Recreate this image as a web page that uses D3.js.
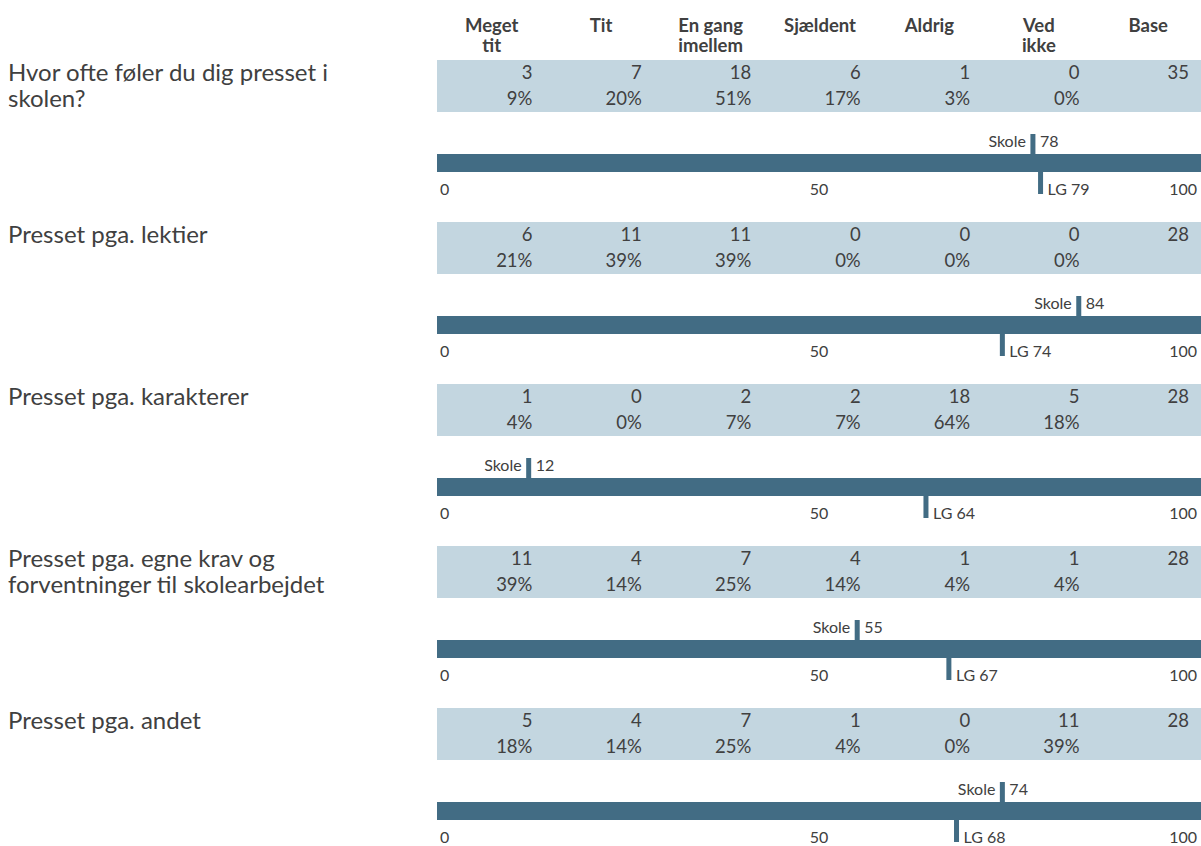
<!DOCTYPE html>
<html>
<head>
<meta charset="utf-8">
<script src="https://cdn.jsdelivr.net/npm/d3@7"></script>
<style>
  body { margin: 0; background: #fff; }
  svg text { font-family: Lato, "Open Sans", sans-serif; }
</style>
</head>
<body>
<div id="svg-container"></div>
<script>
// data
const columns = ["Meget tit", "Tit", "En gang imellem", "Sjældent", "Aldrig", "Ved ikke", "Base"];
const headerLines = [["Meget", "tit"], ["Tit"], ["En gang", "imellem"], ["Sjældent"], ["Aldrig"], ["Ved", "ikke"], ["Base"]];
const questions = [
  ["Hvor ofte føler du dig presset i", "skolen?"],
  ["Presset pga. lektier"],
  ["Presset pga. karakterer"],
  ["Presset pga. egne krav og", "forventninger til skolearbejdet"],
  ["Presset pga. andet"]
];
const counts = [
  [3, 7, 18, 6, 1, 0],
  [6, 11, 11, 0, 0, 0],
  [1, 0, 2, 2, 18, 5],
  [11, 4, 7, 4, 1, 1],
  [5, 4, 7, 1, 0, 11]
];
const percents = [
  [9, 20, 51, 17, 3, 0],
  [21, 39, 39, 0, 0, 0],
  [4, 0, 7, 7, 64, 18],
  [39, 14, 25, 14, 4, 4],
  [18, 14, 25, 4, 0, 39]
];
const bases = [35, 28, 28, 28, 28];
const skole = [78, 84, 12, 55, 74];
const lg = [79, 74, 64, 67, 68];
const ticks = [0, 50, 100];

////////////////////////////  Init  ///////////////////////////////
const width = 1201;
const height = 846;
const svg = d3.select("#svg-container").append("svg")
  .attr("width", width).attr("height", height);

const textColor = "#404040";
const bandColor = "#c3d6e0";
const barColor = "#426c84";

const pitch = 162;
const bandTop = 60;
const numSize = 18.5;
const smallSize = 16;

// scales
const xScale = d3.scaleLinear().domain([0, 100]).range([437, 1201]);
const colScale = d3.scaleBand().domain(columns).range([437, 1203]);

// header
const header = svg.append("g").attr("class", "header");
columns.forEach((c, i) => {
  const cx = colScale(c) + colScale.bandwidth() / 2;
  header.append("text")
    .attr("x", cx)
    .attr("y", 32)
    .attr("text-anchor", "middle")
    .attr("font-size", 18.5)
    .attr("font-weight", "bold")
    .attr("fill", textColor)
    .selectAll("tspan")
    .data(headerLines[i])
    .enter()
    .append("tspan")
    .attr("x", cx)
    .attr("dy", (d, j) => (j === 0 ? 0 : 20))
    .text((d) => d);
});

// blocks
questions.forEach((q, qi) => {
  const g = svg.append("g").attr("transform", `translate(0,${bandTop + qi * pitch})`);

  // question label, one text per line
  q.forEach((line, j) => {
    g.append("text")
      .attr("x", 8)
      .attr("y", 21 + j * 26)
      .attr("font-size", 24)
      .attr("fill", textColor)
      .text(line);
  });

  g.append("rect")
    .attr("x", xScale(0))
    .attr("y", 0)
    .attr("width", xScale(100) - xScale(0))
    .attr("height", 52)
    .attr("fill", bandColor);

  const rightEdge = (i) => colScale(columns[i]) + colScale.bandwidth() - 14;

  counts[qi].forEach((v, i) => {
    g.append("text").attr("x", rightEdge(i)).attr("y", 19)
      .attr("text-anchor", "end").attr("font-size", numSize).attr("fill", textColor)
      .text(v);
    g.append("text").attr("x", rightEdge(i)).attr("y", 45)
      .attr("text-anchor", "end").attr("font-size", numSize).attr("fill", textColor)
      .text(percents[qi][i] + "%");
  });
  g.append("text").attr("x", rightEdge(6)).attr("y", 19)
    .attr("text-anchor", "end").attr("font-size", numSize).attr("fill", textColor)
    .text(bases[qi]);

  // bar
  const barY = 94;
  const barH = 18;
  g.append("rect")
    .attr("x", xScale(0))
    .attr("y", barY)
    .attr("width", xScale(100) - xScale(0))
    .attr("height", barH)
    .attr("fill", barColor);

  // axis labels
  ticks.forEach((t, ti) => {
    g.append("text")
      .attr("x", ti === 0 ? xScale(t) + 3 : ti === ticks.length - 1 ? xScale(t) - 4 : xScale(t))
      .attr("y", barY + barH + 23)
      .attr("text-anchor", ti === 0 ? "start" : ti === ticks.length - 1 ? "end" : "middle")
      .attr("font-size", smallSize)
      .attr("fill", textColor)
      .text(t);
  });

  // skole marker
  const sx = xScale(skole[qi]);
  g.append("rect").attr("x", sx - 2.5).attr("y", barY - 20).attr("width", 5).attr("height", 20)
    .attr("fill", barColor);
  g.append("text").attr("x", sx - 7).attr("y", barY - 7)
    .attr("text-anchor", "end").attr("font-size", smallSize).attr("fill", textColor).text("Skole");
  g.append("text").attr("x", sx + 7).attr("y", barY - 7)
    .attr("font-size", smallSize).attr("fill", textColor).text(skole[qi]);

  // LG marker
  const lx = xScale(lg[qi]);
  g.append("rect").attr("x", lx - 2.5).attr("y", barY + barH).attr("width", 5).attr("height", 22)
    .attr("fill", barColor);
  g.append("text").attr("x", lx + 7).attr("y", barY + barH + 23)
    .attr("font-size", smallSize).attr("fill", textColor).text("LG " + lg[qi]);
});
</script>
</body>
</html>
